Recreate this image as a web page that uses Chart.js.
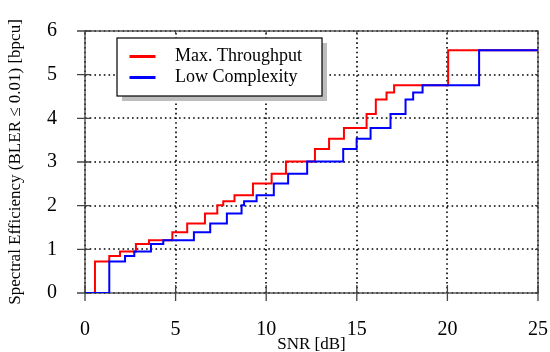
<!DOCTYPE html>
<html>
<head>
<meta charset="utf-8">
<script src="https://cdn.jsdelivr.net/npm/chart.js@4"></script>
<style>
  html, body { margin: 0; padding: 0; background: #fff; }
  #wrap { width: 550px; height: 352px; position: relative; }
</style>
</head>
<body>
<div id="wrap"><canvas id="chart"></canvas></div>
<script>
// Data (SNR where each step starts, level after the step)
const snrMaxThroughput = [0, 0.55, 1.34, 1.93, 2.81, 3.53, 4.82, 5.64, 6.62, 7.3, 7.63, 8.25, 9.27, 10.3, 11.09, 12.69, 13.47, 14.29, 15.54, 16.05, 16.64, 17.06, 20.04, 25];
const seMaxThroughput = [0, 0.72, 0.85, 0.95, 1.12, 1.21, 1.39, 1.59, 1.82, 2.01, 2.1, 2.24, 2.51, 2.73, 3.01, 3.3, 3.53, 3.78, 4.1, 4.43, 4.59, 4.76, 5.56, 5.56];

const snrLowComplexity = [0, 1.34, 2.21, 2.72, 3.64, 4.32, 6.01, 6.91, 7.83, 8.64, 8.78, 9.47, 10.42, 11.21, 12.26, 14.25, 14.99, 15.76, 16.86, 17.69, 18.11, 18.63, 21.75, 25];
const seLowComplexity = [0, 0.72, 0.85, 0.95, 1.12, 1.21, 1.39, 1.59, 1.82, 2.01, 2.1, 2.24, 2.51, 2.73, 3.01, 3.3, 3.53, 3.78, 4.1, 4.43, 4.59, 4.76, 5.56, 5.56];

const seriesLabels = ["Max. Throughput", "Low Complexity"];
const seriesColors = ["#ff0000", "#0000ff"];

const serif = "'Liberation Serif', 'Times New Roman', serif";

function toPoints(xs, ys) {
  return xs.map((x, i) => ({ x: x, y: ys[i] }));
}

// Dotted grid, frame + ticks drawn pgfplots style
const framePlugin = {
  id: "frame",
  beforeDatasetsDraw(chart) {
    const { ctx, chartArea: a, scales } = chart;
    ctx.save();

    // dotted grid
    ctx.strokeStyle = "#000";
    ctx.lineWidth = 1.6;
    ctx.setLineDash([1.6, 3.1]);
    ctx.beginPath();
    scales.x.ticks.forEach(t => {
      const px = Math.round(scales.x.getPixelForValue(t.value));
      ctx.moveTo(px, a.bottom); ctx.lineTo(px, a.top);
    });
    scales.y.ticks.forEach(t => {
      const py = Math.round(scales.y.getPixelForValue(t.value));
      ctx.moveTo(a.left, py); ctx.lineTo(a.right, py);
    });
    ctx.stroke();
    ctx.setLineDash([]);

    // axis box and tick marks
    ctx.strokeStyle = "#444";
    ctx.lineWidth = 1.3;
    ctx.strokeRect(a.left, a.top, a.right - a.left, a.bottom - a.top);
    ctx.beginPath();
    scales.x.ticks.forEach(t => {
      const px = scales.x.getPixelForValue(t.value);
      ctx.moveTo(px, a.bottom - 8); ctx.lineTo(px, a.bottom + 8);
      ctx.moveTo(px, a.top); ctx.lineTo(px, a.top + 3);
    });
    scales.y.ticks.forEach(t => {
      const py = scales.y.getPixelForValue(t.value);
      ctx.moveTo(a.left - 8, py); ctx.lineTo(a.left + 6, py);
      ctx.moveTo(a.right - 3, py); ctx.lineTo(a.right, py);
    });
    ctx.stroke();
    ctx.restore();
  },
  afterDatasetsDraw(chart) {
    const { ctx, chartArea: a } = chart;
    const bx = a.left + 32, by = a.top + 7, bw = 205, bh = 58;
    ctx.save();
    ctx.fillStyle = "#bdbdbd";
    ctx.fillRect(bx + 5, by + 5, bw, bh);
    ctx.fillStyle = "#fff";
    ctx.fillRect(bx, by, bw, bh);
    ctx.strokeStyle = "#000";
    ctx.lineWidth = 1.2;
    ctx.strokeRect(bx, by, bw, bh);
    ctx.font = "18px " + serif;
    ctx.textBaseline = "middle";
    chart.data.datasets.forEach((ds, i) => {
      const y = by + 18.5 + i * 21;
      ctx.strokeStyle = ds.borderColor;
      ctx.lineWidth = 3;
      ctx.beginPath();
      ctx.moveTo(bx + 12.5, y);
      ctx.lineTo(bx + 38.5, y);
      ctx.stroke();
      ctx.fillStyle = "#000";
      ctx.fillText(ds.label, bx + 58, y);
    });
    ctx.restore();
  }
};

new Chart(document.getElementById("chart"), {
  type: "line",
  data: {
    datasets: [
      {
        label: seriesLabels[0],
        data: toPoints(snrMaxThroughput, seMaxThroughput),
        borderColor: seriesColors[0],
        borderWidth: 2,
        stepped: "before",
        pointRadius: 0,
        fill: false,
        order: 1
      },
      {
        label: seriesLabels[1],
        data: toPoints(snrLowComplexity, seLowComplexity),
        borderColor: seriesColors[1],
        borderWidth: 2,
        stepped: "before",
        pointRadius: 0,
        fill: false,
        order: 0
      }
    ]
  },
  options: {
    responsive: true,
    maintainAspectRatio: false,
    devicePixelRatio: 1,
    animation: false,
    layout: { padding: { top: 31, right: 12, left: 0, bottom: 0 } },
    plugins: {
      legend: { display: false },
      tooltip: { enabled: false }
    },
    scales: {
      x: {
        type: "linear",
        min: 0,
        max: 25,
        afterFit: s => { s.height = 59; s.paddingLeft = 0; s.paddingRight = 0; },
        ticks: { stepSize: 5, padding: 17, color: "#000", font: { family: serif, size: 20 } },
        grid: { display: false },
        border: { display: false },
        title: { display: true, text: "SNR [dB]", color: "#000", font: { family: serif, size: 17 }, padding: { top: 0, bottom: -3 } }
      },
      y: {
        min: 0,
        max: 6,
        afterFit: s => { s.width = 85; s.paddingTop = 0; s.paddingBottom = 0; },
        ticks: { stepSize: 1, padding: 20, color: "#000", font: { family: serif, size: 20 } },
        grid: { display: false },
        border: { display: false },
        title: { display: true, text: "Spectral Efficiency (BLER ≤ 0.01) [bpcu]", color: "#000", font: { family: serif, size: 17 }, padding: { top: 5, bottom: 0 } }
      }
    }
  },
  plugins: [framePlugin]
});
</script>
</body>
</html>
